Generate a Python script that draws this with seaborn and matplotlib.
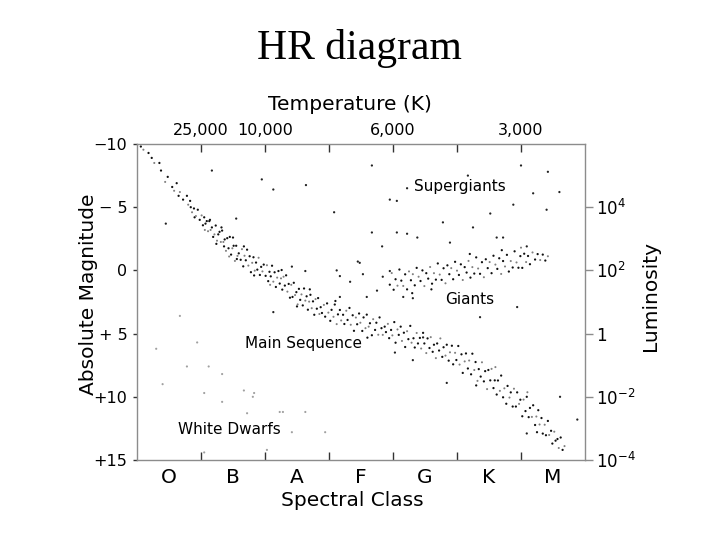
import matplotlib
matplotlib.use("Agg")
import matplotlib.pyplot as plt
import seaborn as sns
import pandas as pd

# ---------------- data (spectral position 0-7, absolute magnitude) ----------------
ms_x = [0.06, 0.10, 0.18, 0.23, 0.27, 0.35, 0.375, 0.44, 0.48, 0.55, 0.58, 0.62, 0.65, 0.67, 0.72, 0.78,
        0.80, 0.83, 0.84, 0.86, 0.89, 0.90, 0.92, 0.95, 0.98,
        1.01, 1.03, 1.05, 1.06, 1.07, 1.09, 1.11, 1.13, 1.14, 1.15, 1.17, 1.19,
        1.21, 1.23, 1.24, 1.25, 1.27, 1.29, 1.31, 1.32, 1.33, 1.35, 1.36, 1.37, 1.39,
        1.41, 1.43, 1.44, 1.45, 1.47, 1.49, 1.50, 1.51, 1.53, 1.55, 1.56, 1.57, 1.59,
        1.62, 1.64, 1.66, 1.67, 1.68, 1.70, 1.72, 1.74, 1.76, 1.78, 1.80, 1.82, 1.83, 1.84, 1.86, 1.88, 1.90,
        1.92, 1.94, 1.96, 1.98,
        2.01, 2.03, 2.05, 2.07, 2.08, 2.09, 2.11, 2.13, 2.15, 2.17, 2.19, 2.21, 2.23, 2.25, 2.26, 2.27, 2.29,
        2.31, 2.33, 2.35, 2.37, 2.39,
        2.41, 2.43, 2.45, 2.47, 2.49, 2.50, 2.51, 2.53, 2.55, 2.57, 2.59, 2.61, 2.63, 2.65, 2.67, 2.69, 2.70,
        2.71, 2.73, 2.75, 2.77, 2.79, 2.81, 2.83, 2.85, 2.87, 2.89,
        2.92, 2.94, 2.97, 2.99, 3.02, 3.04, 3.07, 3.09, 3.10, 3.12, 3.14, 3.17, 3.19, 3.22, 3.24, 3.27, 3.29,
        3.32, 3.34, 3.37, 3.39, 3.42, 3.44, 3.47, 3.49, 3.52, 3.54, 3.57, 3.59, 3.60, 3.62, 3.64, 3.67, 3.69,
        3.72, 3.74, 3.77, 3.79, 3.82, 3.84, 3.87, 3.89,
        3.92, 3.94, 3.97, 3.99, 4.02, 4.04, 4.07, 4.09, 4.12, 4.14, 4.17, 4.19, 4.22, 4.24, 4.27, 4.29, 4.32,
        4.34, 4.37, 4.39, 4.42, 4.44, 4.47, 4.49, 4.52, 4.54, 4.57, 4.59, 4.62, 4.64, 4.67, 4.69, 4.72, 4.74,
        4.77, 4.79, 4.82, 4.84, 4.87, 4.89,
        4.92, 4.94, 4.97, 4.99, 5.02, 5.04, 5.07, 5.09, 5.12, 5.14, 5.17, 5.19, 5.22, 5.24, 5.27, 5.29, 5.30,
        5.32, 5.34, 5.37, 5.39, 5.42, 5.44, 5.47, 5.49, 5.52, 5.54, 5.57, 5.59, 5.60, 5.62, 5.64, 5.67, 5.69,
        5.72, 5.74, 5.77, 5.79, 5.82, 5.84, 5.87, 5.89,
        5.92, 5.94, 5.97, 5.99, 6.02, 6.04, 6.07, 6.09, 6.10, 6.12, 6.14, 6.17, 6.19, 6.22, 6.24, 6.25, 6.27,
        6.29, 6.32, 6.34, 6.37, 6.39, 6.42, 6.44, 6.47, 6.49, 6.52, 6.54, 6.57, 6.59, 6.62, 6.65, 6.68]
ms_mag = [-9.8, -9.55, -9.29, -8.9, -8.5, -8.5, -7.9, -7.0, -7.4, -6.6, -6.3, -6.9, -5.9, -6.2, -5.6, -5.9,
          -5.2, -5.5, -5.0, -4.6, -4.9, -4.2, -4.3, -4.8, -4.0,
          -4.35, -3.57, -4.2, -3.2, -3.7, -3.9, -3.1, -3.9, -4.0, -3.2, -3.4, -2.65,
          -2.85, -3.55, -2.1, -2.35, -2.85, -3.05, -2.25, -3.4, -3.15, -2.25, -1.9, -2.45, -1.55,
          -2.55, -1.75, -1.1, -2.65, -1.25, -1.75, -2.6, -1.95, -0.75, -1.95, -0.9, -1.15, -1.35,
          -0.84, -1.68, -0.32, -1.9, -1.16, -0.8, -1.64, -0.38, -1.12, 0.14, -0.6, -1.04, 0.4, 0.02, -0.62, -0.06, -1.0,
          0.36, -0.28, 0.08, -0.46,
          0.43, -0.41, 0.85, 0.11, 1.14, 0.47, -0.37, 0.89, 0.15, 1.31, 0.57, 0.05, 1.04, 0.63, -0.03, 1.52, 0.5,
          1.2, 0.39, 1.68, 1.07, 2.16,
          1.14, 2.1, 0.98, 1.95, 1.72, 2.85, 2.69, 1.46, 2.33, 1.9, 2.77, 1.43, 2.39, 2.05, 3.11, 2.47, 1.5,
          1.93, 2.99, 2.45, 3.51, 2.27, 3.03, 2.19, 3.45, 2.91, 3.37,
          2.73, 3.66, 2.61, 3.34, 3.99, 3.12, 3.67, 2.7, 2.42, 4.25, 3.48, 3.13, 3.96, 3.51, 4.24, 3.19, 3.92,
          2.97, 4.3, 3.55, 4.78, 3.73, 4.26, 3.41, 4.14, 4.79, 3.72, 4.57, 3.5, 5.32, 4.45, 4.18, 5.13, 3.86,
          4.71, 4.14, 5.09, 3.72, 4.57, 5.1, 4.45, 4.88,
          4.23, 5.36, 4.71, 5.14, 4.09, 5.72, 4.67, 5.1, 4.45, 5.58, 4.93, 6.06, 4.81, 5.44, 4.39, 5.72, 5.37,
          6.1, 4.95, 5.78, 5.34, 6.18, 4.94, 5.78, 6.54, 5.38, 6.14, 5.28, 6.44, 5.88, 6.94, 5.78, 6.34, 5.38,
          6.84, 6.08, 6.74, 5.88, 7.14, 6.48,
          5.96, 7.43, 6.52, 7.09, 5.98, 7.45, 6.64, 8.11, 7.2, 6.57, 7.76, 7.13, 8.22, 6.59, 7.88, 7.25, 9.1,
          8.74, 7.81, 8.4, 7.27, 8.78, 7.97, 9.39, 7.88, 8.7, 7.79, 9.31, 8.7, 7.65, 9.82, 8.71, 9.53, 8.32,
          10.04, 9.33, 10.55, 9.14, 10.06, 9.65, 10.77, 9.36,
          10.77, 9.65, 10.56, 10.23, 11.54, 10.22, 11.13, 10.0, 9.64, 11.61, 10.88, 11.59, 10.67, 12.23, 11.56, 12.8, 11.06,
          12.19, 11.68, 12.91, 12.21, 13.04, 11.91, 13.02, 12.69, 13.7, 12.76, 13.47, 13.34, 14.05, 13.22, 14.2, 13.9]

giant_x = [3.95, 3.98, 4.01, 4.04, 4.07, 4.10, 4.13, 4.16, 4.19, 4.22, 4.25, 4.28, 4.30, 4.31, 4.34, 4.37,
           4.40, 4.43, 4.46, 4.49, 4.52, 4.55, 4.58, 4.60, 4.61, 4.64, 4.67, 4.70, 4.73, 4.76, 4.79, 4.82,
           4.85, 4.88, 4.91, 4.94, 4.97, 5.00, 5.03, 5.06, 5.09, 5.12, 5.15, 5.18, 5.20, 5.21, 5.24, 5.27,
           5.30, 5.33, 5.36, 5.39, 5.42, 5.45, 5.48, 5.51, 5.54, 5.57, 5.60, 5.63, 5.66, 5.69, 5.70, 5.72,
           5.75, 5.78, 5.81, 5.84, 5.87, 5.90, 5.93, 5.96, 5.99, 6.00, 6.02, 6.05, 6.08, 6.11, 6.14, 6.18,
           6.22, 6.26, 6.30, 6.34, 6.38, 6.42]
giant_mag = [1.13, 0.21, 1.53, 0.70, 1.21, -0.07, 0.81, 1.23, 0.31, 1.50, 0.08, 0.78, 1.8, 0.30, 1.18, -0.20,
             0.5, 0.84, 0.0, 1.24, 0.22, 0.65, -0.27, 1.5, 1.05, 0.22, 0.73, -0.55, 0.33, 0.75, -0.17, 1.02,
             -0.40, 0.30, -0.18, 0.70, -0.68, 0.02, 0.36, -0.48, 0.76, -0.26, 0.17, -0.75, -1.3, 0.57, -0.26, 0.25,
             -1.03, -0.15, 0.27, -0.65, 0.54, -0.88, -0.18, -0.66, 0.22, -1.16, -0.46, -0.12, -0.96, 0.28, -1.6, -0.74,
             -0.31, -1.23, 0.09, -0.74, -0.23, -1.51, -0.63, -0.21, -1.13, -1.8, -0.2, -1.32, -0.66, -1.14, -0.49, -1.42,
             -0.86, -1.29, -0.82, -1.25, -0.78, -1.12]

field_x = [1.17, 1.95, 2.13, 2.64, 3.08, 3.67, 3.95, 4.06, 4.22, 5.17, 6.0, 6.42, 6.6, 6.19, 5.88, 6.4,
           5.52, 4.78, 5.25, 5.62, 5.72, 4.89, 6.09, 3.67, 4.06, 4.38, 1.55, 0.45, 2.13, 2.42, 3.12, 3.48,
           3.84, 4.16, 4.31, 5.36, 5.94, 6.61, 6.88, 6.09, 4.84, 4.31, 4.03, 4.47, 4.22, 3.83, 3.45, 2.63,
           3.17, 3.53, 3.33, 3.75, 3.95, 3.59, 3.17]
field_mag = [-7.9, -7.2, -6.4, -6.75, -4.6, -8.3, -5.6, -5.5, -6.5, -7.5, -8.3, -7.8, -6.2, -6.1, -5.2, -4.8,
             -4.5, -3.8, -3.4, -2.6, -2.6, -2.2, -1.9, -3.0, -3.0, -2.6, -4.1, -3.7, 3.3, -0.3, 0.0, -0.6,
             0.5, 2.1, 2.2, 3.7, 2.9, 10.0, 11.8, 12.9, 8.9, 7.1, 6.5, 5.3, -2.9, -1.9, -0.7, 0.05,
             0.45, 0.3, 0.9, 1.6, 0.05, 2.1, 2.1]

dwarf_x = [0.67, 0.94, 1.33, 1.12, 1.67, 1.83, 1.33, 1.05, 2.23, 1.72, 0.78, 2.42, 1.05, 2.03, 2.63,
           2.94, 2.28, 1.81, 0.30, 0.40]
dwarf_mag = [3.6, 5.7, 8.2, 7.6, 9.5, 9.7, 10.4, 9.7, 11.2, 11.3, 7.6, 12.8, 14.4, 14.2, 11.2,
             12.8, 11.2, 10.0, 6.2, 9.0]

spectral_classes = ["O", "B", "A", "F", "G", "K", "M"]
temp_labels = ["25,000", "10,000", "", "6,000", "", "3,000"]
mag_labels = ["\u221210", "\u2212 5", "0", "+ 5", "+10", "+15"]
lum_labels = [r"$10^4$", r"$10^2$", "1", r"$10^{-2}$", r"$10^{-4}$"]
region_names = ["Supergiants", "Giants", "Main Sequence", "White Dwarfs"]

# ---------------- figure ----------------
sns.set_theme(style="white")
plt.rcParams["font.family"] = ["DejaVu Sans"]
plt.rcParams["text.color"] = "black"
plt.rcParams["xtick.color"] = "black"
plt.rcParams["ytick.color"] = "black"
plt.rcParams["xtick.labelcolor"] = "black"
plt.rcParams["ytick.labelcolor"] = "black"

fig = plt.figure(figsize=(7.2, 5.4), dpi=100)
ax = fig.add_axes([137 / 720, 1 - 460 / 540, 448 / 720, 316 / 540])


def draw(xs, ys, color, size):
    df = pd.DataFrame({"cls": xs, "mag": ys})
    sns.scatterplot(data=df, x="cls", y="mag", ax=ax, color=color, s=size,
                    linewidth=0, edgecolor="none", legend=False)


def split(xs, ys):
    dark_x = [v for i, v in enumerate(xs) if i % 3 != 1]
    dark_y = [v for i, v in enumerate(ys) if i % 3 != 1]
    pale_x = [v for i, v in enumerate(xs) if i % 3 == 1]
    pale_y = [v for i, v in enumerate(ys) if i % 3 == 1]
    return dark_x, dark_y, pale_x, pale_y


# dense branches drawn as a mix of dark and pale dots (styling only)
for bx, by in [(ms_x, ms_mag), (giant_x, giant_mag)]:
    dx, dy, px, py = split(bx, by)
    draw(dx, dy, "#111111", 2.6)
    draw(px, py, "#808080", 2.2)
draw(field_x, field_mag, "#222222", 2.6)
draw(dwarf_x, dwarf_mag, "#a0a0a0", 2.4)

ax.set_xlim(0, 7)
ax.set_ylim(15, -10)
ax.set_xlabel("")
ax.set_ylabel("")

for sp in ax.spines.values():
    sp.set_color("#8c8c8c")
    sp.set_linewidth(1.0)

# left axis
ax.set_yticks([-10, -5, 0, 5, 10, 15])
ax.set_yticklabels(mag_labels)
ax.tick_params(axis="y", which="major", left=True, direction="out", length=3, width=1,
               color="#333333", labelsize=11.5, pad=4, labelcolor="black")

# bottom axis: boundaries as ticks, class letters centred
ax.set_xticks([1, 2, 3, 4, 5, 6])
ax.set_xticklabels([])
ax.set_xticks([0.5, 1.5, 2.5, 3.5, 4.5, 5.5, 6.5], minor=True)
ax.set_xticklabels(spectral_classes, minor=True)
ax.tick_params(axis="x", which="major", bottom=True, direction="in", length=6, width=1, color="#333333")
ax.tick_params(axis="x", which="minor", bottom=True, length=0, labelsize=14.5, pad=6, labelcolor="black")

# top axis: temperature
top = ax.secondary_xaxis("top")
top.set_xticks([1, 2, 3, 4, 5, 6])
top.set_xticklabels(temp_labels)
top.tick_params(axis="x", direction="in", length=6, width=1, color="#333333", labelsize=11.5, pad=4,
                labelcolor="black")
top.spines["top"].set_visible(False)

# right axis: luminosity
right = ax.secondary_yaxis("right")
right.set_yticks([-5, 0, 5, 10, 15])
right.set_yticklabels(lum_labels)
right.tick_params(axis="y", direction="out", length=6, width=1, color="#8c8c8c", labelsize=12, pad=2,
                  labelcolor="black")
right.spines["right"].set_visible(False)

# region labels
ax.text(5.05, -6.6, region_names[0], ha="center", va="center", fontsize=11, color="black")
ax.text(5.2, 2.3, region_names[1], ha="center", va="center", fontsize=11, color="black")
ax.text(2.6, 5.75, region_names[2], ha="center", va="center", fontsize=11, color="black")
ax.text(1.45, 12.6, region_names[3], ha="center", va="center", fontsize=11, color="black")

# axis titles
fig.text(350 / 720, 1 - 105 / 540, "Temperature (K)", ha="center", va="center", fontsize=14.5, color="black")
fig.text(352 / 720, 1 - 500 / 540, "Spectral Class", ha="center", va="center", fontsize=14.5, color="black")
fig.text(88 / 720, 1 - 294 / 540, "Absolute Magnitude", ha="center", va="center", rotation=90,
         fontsize=14.5, color="black")
fig.text(650 / 720, 1 - 296 / 540, "Luminosity", ha="center", va="center", rotation=90,
         fontsize=14.5, color="black")

fig.text(359 / 720, 1 - 48 / 540, "HR diagram", ha="center", va="center", fontsize=30, color="black",
         family=["Liberation Serif", "DejaVu Serif"])

fig.savefig("out.png", dpi=100)
